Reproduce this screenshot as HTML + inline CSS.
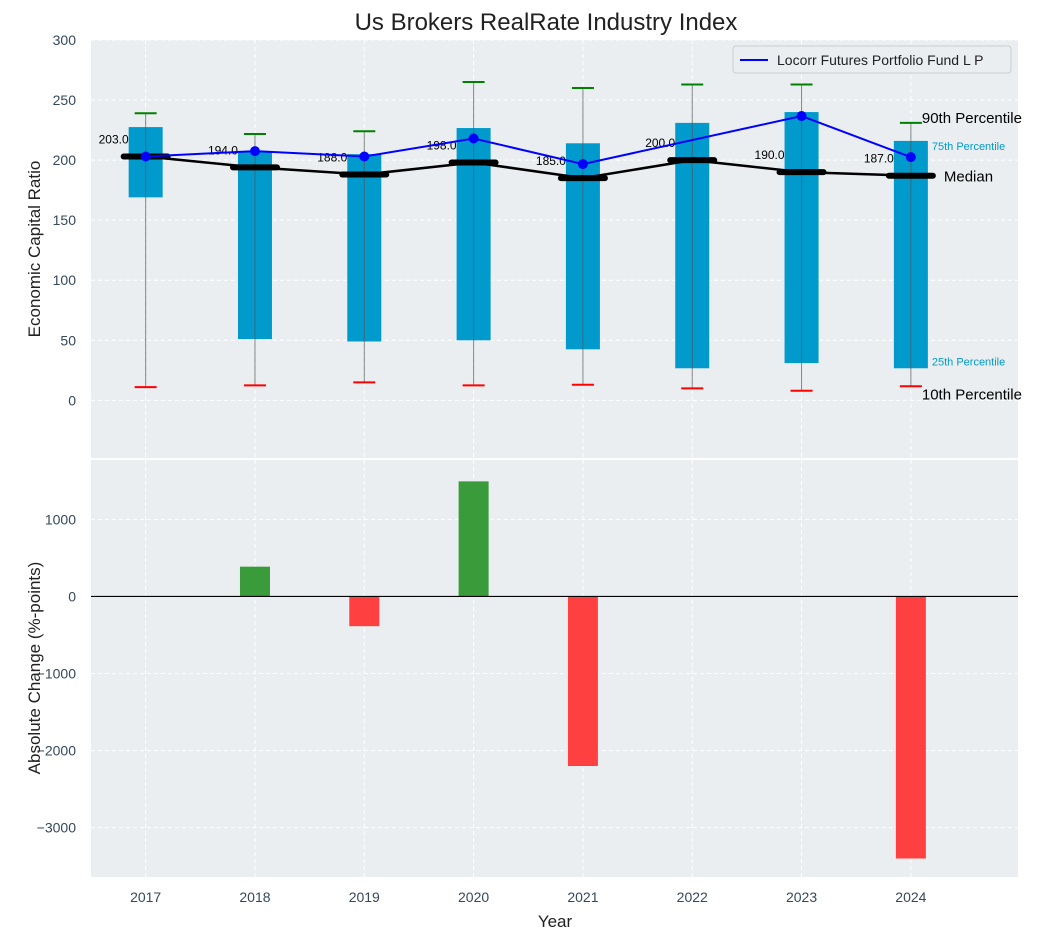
<!DOCTYPE html>
<html><head><meta charset="utf-8"><style>
body{margin:0;background:#fff;font-family:"Liberation Sans",sans-serif}
svg text{font-family:"Liberation Sans",sans-serif}
</style></head><body>
<svg id="c" width="1043" height="940" xmlns="http://www.w3.org/2000/svg"></svg>
<script>
const years=[2017,2018,2019,2020,2021,2022,2023,2024];
const p10=[11,12.5,15,12.5,13,10,8,11.7];
const p25=[169,51,49,50,42.5,26.7,31,26.7];
const p50=[203,194,188,198,185,200,190,187];
const p75=[227.5,207.5,205,226.7,214,231,240,216];
const p90=[239,221.7,224,265,260,263,263,231];
const company=[203,207.5,203,218,196.7,null,236.7,202.5];
const change=[0,386,-386,1493,-2200,0,0,-3400];
const topTicks=[0,50,100,150,200,250,300];
const botTicks=[-3000,-2000,-1000,0,1000];
const botTickLabels=["\u22123000","\u22122000","\u22121000","0","1000"];

const S=document.getElementById('c');const NS='http://www.w3.org/2000/svg';
function el(t,a,p){const e=document.createElementNS(NS,t);for(const k in a)e.setAttribute(k,a[k]);(p||S).appendChild(e);return e;}
const L=91,R=1018;
const x=i=>L+(i+0.5)*(R-L)/8.48;
const T0=40,T1=458,tmin=-48,tmax=300;
const yT=v=>T1-(v-tmin)/(tmax-tmin)*(T1-T0);
const B0=460,B1=877,bmin=-3640,bmax=1770;
const yB=v=>B1-(v-bmin)/(bmax-bmin)*(B1-B0);

let bg=el('rect',{x:L,y:T0,width:R-L,height:T1-T0,fill:'#eaeef0'});

let bg2=el('rect',{x:L,y:B0,width:R-L,height:B1-B0,fill:'#eaeef0'});

years.forEach((y,i)=>{
  el('line',{x1:x(i),x2:x(i),y1:T0,y2:T1,stroke:'#fff','stroke-dasharray':'4,3','stroke-width':1});
  el('line',{x1:x(i),x2:x(i),y1:B0,y2:B1,stroke:'#fff','stroke-dasharray':'4,3','stroke-width':1});
  const t=el('text',{x:x(i),y:902,'text-anchor':'middle','font-size':14,fill:'#34495e'});t.textContent=y;
  
});
topTicks.forEach(v=>{
  el('line',{x1:L,x2:R,y1:yT(v),y2:yT(v),stroke:'#fff','stroke-dasharray':'4,3'});
  const t=el('text',{x:76,y:yT(v)+5,'text-anchor':'end','font-size':14,fill:'#34495e'});t.textContent=v;
  
});
botTicks.forEach((v,i)=>{
  el('line',{x1:L,x2:R,y1:yB(v),y2:yB(v),stroke:'#fff','stroke-dasharray':'4,3'});
  const t=el('text',{x:76,y:yB(v)+5,'text-anchor':'end','font-size':14,fill:'#34495e'});t.textContent=botTickLabels[i];
  
});
years.forEach((y,i)=>{
  const cx=x(i);
  const b=el('rect',{x:cx-17,y:yT(p75[i]),width:34,height:yT(p25[i])-yT(p75[i]),fill:'#009acd'});
  
  el('line',{x1:cx,x2:cx,y1:yT(p10[i]),y2:yT(p90[i]),stroke:'#555','stroke-opacity':0.7,'stroke-width':1});
  el('line',{x1:cx-11,x2:cx+11,y1:yT(p90[i]),y2:yT(p90[i]),stroke:'green','stroke-width':2});
  el('line',{x1:cx-11,x2:cx+11,y1:yT(p10[i]),y2:yT(p10[i]),stroke:'red','stroke-width':2});
});
let md=p50.map((v,i)=>x(i)+','+yT(v)).join(' ');
let ml=el('polyline',{points:md,fill:'none',stroke:'#000','stroke-width':2.5});

years.forEach((y,i)=>{
  el('line',{x1:x(i)-22,x2:x(i)+22,y1:yT(p50[i]),y2:yT(p50[i]),stroke:'#000','stroke-width':6,'stroke-linecap':'round'});
  const t=el('text',{x:x(i)-17,y:yT(p50[i])-13,'text-anchor':'end','font-size':12,fill:'#000'});t.textContent=p50[i].toFixed(1);
  
});
let cp=[];company.forEach((v,i)=>{if(v!==null)cp.push(x(i)+','+yT(v));});
let cl=el('polyline',{points:cp.join(' '),fill:'none',stroke:'blue','stroke-width':2});

company.forEach((v,i)=>{if(v!==null){const d=el('circle',{cx:x(i),cy:yT(v),r:5,fill:'blue'});
  }});
const lx=x(7);
[[lx+11,yT(p90[7])+0,'90th Percentile',15,'#000'],[lx+21,yT(p75[7])+9,'75th Percentile',11,'#009acd'],[lx+33,yT(p50[7])+6,'Median',15,'#000'],[lx+21,yT(p25[7])-3,'25th Percentile',11,'#009acd'],[lx+11,yT(p10[7])+13,'10th Percentile',15,'#000']].forEach(a=>{
  const t=el('text',{x:a[0],y:a[1],'font-size':a[3],fill:a[4]});t.textContent=a[2];
  
});
const lg=el('g',{});
el('rect',{x:733,y:46,width:278,height:27,fill:'#eaeef0',stroke:'#ccc',rx:3},lg);
el('line',{x1:740,x2:768,y1:60,y2:60,stroke:'blue','stroke-width':2},lg);
let lt=el('text',{x:777,y:65,'font-size':14,fill:'#222'},lg);lt.textContent='Locorr Futures Portfolio Fund L P';
years.forEach((y,i)=>{
  const v=change[i];const y0=yB(0),y1=yB(v);
  const r=el('rect',{x:x(i)-15,y:Math.min(y0,y1),width:30,height:Math.abs(y1-y0),fill:v>=0?'#3a9b3a':'#ff4040'});
  
});
el('line',{x1:L,x2:R,y1:yB(0),y2:yB(0),stroke:'#000','stroke-width':1.2});
let tt=el('text',{x:546,y:30,'text-anchor':'middle','font-size':24,fill:'#222'});tt.textContent='Us Brokers RealRate Industry Index';

let xt=el('text',{x:555,y:927,'text-anchor':'middle','font-size':17,fill:'#222'});xt.textContent='Year';

let y1t=el('text',{x:0,y:0,'text-anchor':'middle','font-size':17,fill:'#222',transform:'translate(40,249) rotate(-90)'});y1t.textContent='Economic Capital Ratio';

let y2t=el('text',{x:0,y:0,'text-anchor':'middle','font-size':17,fill:'#222',transform:'translate(40,668) rotate(-90)'});y2t.textContent='Absolute Change (%-points)';

</script>
</body></html>
